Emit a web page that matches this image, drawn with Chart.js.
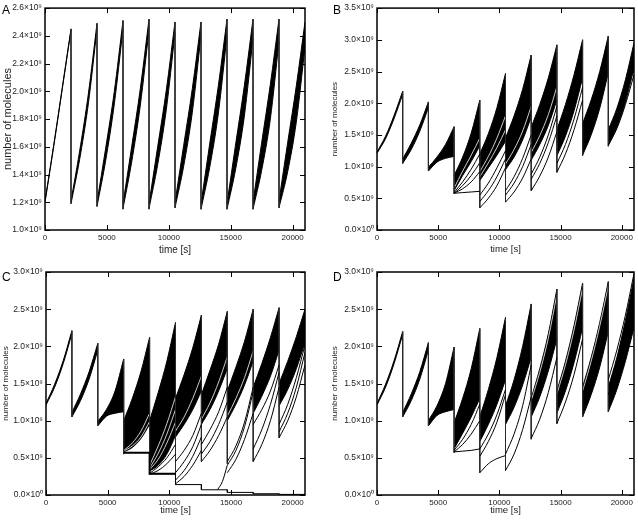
<!DOCTYPE html>
<html><head><meta charset="utf-8">
<script src="https://cdn.jsdelivr.net/npm/chart.js@4.4.0/dist/chart.umd.min.js"></script>
<style>
html,body{margin:0;padding:0;background:#fff;width:638px;height:521px;overflow:hidden}
body{position:relative}
canvas{position:absolute;display:block}
</style></head><body>
<canvas id="cA" width="318" height="260" style="left:0;top:0"></canvas>
<canvas id="cB" width="320" height="260" style="left:318px;top:0"></canvas>
<canvas id="cC" width="318" height="261" style="left:0;top:260px"></canvas>
<canvas id="cD" width="320" height="261" style="left:318px;top:260px"></canvas>
<script>
// ---------- shared data ----------
const SCALE = 1e9;                       // values below are in units of 10^9 molecules
const cycleStarts = [0,2100,4200,6300,8400,10500,12600,14700,16800,18900];
const sampleOffsets = [0,700,1400,2100]; // times inside each cycle where values were read
const xTicks = [0,5000,10000,15000,20000];
const X_MAX = 21000;

// ---------- Panel A ----------
const aYTicks = [1.0,1.2,1.4,1.6,1.8,2.0,2.2,2.4,2.6];
const aHi = [
 [1.21,1.61,2.03,2.45],[1.21,1.57,1.98,2.49],[1.20,1.59,2.00,2.51],[1.19,1.60,2.02,2.52],
 [1.19,1.60,2.01,2.50],[1.20,1.61,2.02,2.50],[1.19,1.62,2.04,2.52],[1.19,1.62,2.04,2.52],
 [1.20,1.63,2.05,2.52],[1.21,1.63,2.04,2.50]];
const aLo = [
 [1.20,1.60,2.02,2.44],[1.19,1.51,1.91,2.45],[1.17,1.50,1.91,2.45],[1.155,1.49,1.90,2.44],
 [1.155,1.47,1.87,2.42],[1.16,1.46,1.85,2.40],[1.15,1.45,1.84,2.40],[1.15,1.44,1.82,2.38],
 [1.15,1.43,1.80,2.36],[1.16,1.42,1.78,2.32]];
const aDropTop = [2.45,2.49,2.51,2.52,2.50,2.50,2.52,2.52,2.52];
const aDropBot = [1.19,1.17,1.15,1.15,1.16,1.15,1.15,1.15,1.16];
const aLineCycle = [];
const aLineVals = [];
const aGapCycle = [];
const aGapVals = [];

// ---------- Panel B ----------
const bYTicks = [0,0.5,1.0,1.5,2.0,2.5,3.0,3.5];
const bHi = [
 [1.23,1.48,1.81,2.19],[1.12,1.37,1.66,2.02],[0.99,1.15,1.35,1.63],[0.86,1.15,1.53,2.05],
 [1.20,1.52,1.93,2.47],[1.45,1.80,2.22,2.76],[1.62,1.98,2.40,2.92],[1.58,1.98,2.45,3.00],
 [1.68,2.05,2.50,3.06],[1.58,1.92,2.37,2.95]];
const bLo = [
 [1.21,1.44,1.76,2.14],[1.05,1.27,1.56,1.93],[0.93,1.07,1.13,1.16],[0.62,0.86,1.08,1.33],
 [0.78,0.98,1.18,1.40],[0.95,1.15,1.42,1.78],[1.10,1.35,1.65,2.05],[1.17,1.48,1.88,2.40],
 [1.18,1.50,1.92,2.48],[1.33,1.62,2.02,2.55]];
const bDropTop = [2.19,2.02,1.63,2.05,2.47,2.76,2.92,3.00,3.06];
const bDropBot = [1.05,0.93,0.57,0.35,0.44,0.62,0.91,1.17,1.32];
const bLineCycle = [3,3,3,3,4,4,4,5,5,5,6,6,6,7,7,9];
const bLineVals = [
 [0.58,0.59,0.60,0.61],[0.58,0.65,0.76,0.92],[0.58,0.70,0.86,1.06],[0.59,0.76,0.96,1.20],
 [0.35,0.50,0.70,0.98],[0.45,0.62,0.84,1.12],[0.55,0.74,0.98,1.25],
 [0.44,0.60,0.82,1.12],[0.55,0.74,1.00,1.35],[0.62,0.84,1.13,1.50],
 [0.62,0.85,1.15,1.55],[0.80,1.05,1.38,1.80],[0.88,1.15,1.50,1.95],
 [0.91,1.20,1.58,2.05],[1.05,1.35,1.75,2.25],
 [1.34,1.60,1.98,2.45]];
const bGapCycle = [3,4,4,5,6];
const bGapVals = [
 [0.66,0.93,1.18,1.45],[0.84,1.06,1.30,1.58],[0.92,1.16,1.45,1.80],
 [1.04,1.27,1.56,1.95],[1.22,1.49,1.82,2.26]];

// ---------- Panel C ----------
const cYTicks = [0,0.5,1.0,1.5,2.0,2.5,3.0];
const cHi = [
 [1.23,1.49,1.81,2.21],[1.11,1.36,1.66,2.04],[0.99,1.15,1.40,1.83],[1.00,1.30,1.66,2.12],
 [1.00,1.38,1.80,2.32],[1.30,1.62,1.98,2.42],[1.35,1.68,2.03,2.47],[1.40,1.72,2.07,2.50],
 [1.45,1.77,2.12,2.52],[1.50,1.80,2.13,2.50]];
const cLo = [
 [1.21,1.45,1.77,2.17],[1.05,1.27,1.56,1.95],[0.93,1.06,1.10,1.12],[0.58,0.64,0.76,0.95],
 [0.32,0.40,0.55,0.80],[0.78,0.95,1.15,1.40],[0.95,1.15,1.40,1.70],[1.00,1.22,1.48,1.80],
 [1.10,1.33,1.60,1.95],[1.20,1.42,1.70,2.05]];
const cDropTop = [2.21,2.04,1.83,2.12,2.32,2.42,2.47,2.50,2.52];
const cDropBot = [1.05,0.93,0.55,0.28,0.15,0.45,0.42,0.45,0.77];
const cLineCycle = [4,4,5,5,5,5,6,6,6,7,7,7,8,8,8,9,9,9];
const cLineVals = [
 [0.28,0.33,0.42,0.55],[0.29,0.38,0.50,0.68],
 [0.15,0.25,0.40,0.60],[0.20,0.33,0.52,0.78],[0.30,0.45,0.65,0.95],[0.45,0.60,0.80,1.10],
 [0.45,0.60,0.80,1.05],[0.55,0.72,0.95,1.25],[0.68,0.88,1.12,1.45],
 [0.40,0.60,0.92,1.39],[0.45,0.66,0.98,1.45],[0.30,0.48,0.75,1.10],
 [0.45,0.68,1.00,1.45],[0.62,0.88,1.22,1.65],[0.95,1.15,1.40,1.75],
 [0.77,1.00,1.32,1.75],[0.85,1.10,1.45,1.92],[0.95,1.22,1.58,2.02]];
const cGapCycle = [3,3,4,4,4,5,6,7];
const cGapVals = [
 [0.60,0.70,0.86,1.10],[0.59,0.66,0.78,0.99],
 [0.34,0.48,0.70,0.98],[0.36,0.56,0.82,1.15],[0.40,0.66,0.96,1.32],
 [0.86,1.05,1.30,1.60],[1.02,1.24,1.52,1.86],[1.06,1.30,1.58,1.94]];
const cStepFirstCycle = 3;
const cStepLevels = [0.57,0.285,0.14,0.07,0.035,0.017,0.008];
const cSpikeT = [13900,14300,14700];
const cSpikeV = [0.07,0.18,0.40];

// ---------- Panel D ----------
const dYTicks = [0,0.5,1.0,1.5,2.0,2.5,3.0];
const dHi = [
 [1.23,1.49,1.81,2.20],[1.11,1.36,1.66,2.05],[1.00,1.20,1.50,1.99],[0.97,1.30,1.70,2.24],
 [1.05,1.42,1.85,2.39],[1.20,1.55,2.00,2.57],[1.30,1.70,2.17,2.77],[1.40,1.80,2.28,2.85],
 [1.45,1.85,2.32,2.87],[1.45,1.85,2.35,2.92]];
const dLo = [
 [1.21,1.45,1.77,2.16],[1.05,1.27,1.56,1.95],[0.93,1.07,1.12,1.15],[0.62,0.83,1.05,1.30],
 [0.72,0.95,1.22,1.55],[0.95,1.18,1.48,1.85],[1.05,1.32,1.67,2.10],[1.10,1.40,1.78,2.25],
 [1.05,1.35,1.72,2.20],[1.12,1.42,1.80,2.25]];
const dDropTop = [2.20,2.05,1.99,2.24,2.39,2.57,2.77,2.85,2.87];
const dDropBot = [1.05,0.93,0.57,0.30,0.33,0.75,0.96,1.05,1.12];
const dLineCycle = [3,3,3,4,4,4,5,5,6,7,9,9];
const dLineVals = [
 [0.58,0.59,0.60,0.62],[0.58,0.68,0.82,1.00],[0.60,0.75,0.95,1.22],
 [0.30,0.42,0.49,0.53],[0.52,0.72,0.98,1.35],[0.62,0.82,1.08,1.42],
 [0.33,0.55,0.88,1.32],[0.55,0.82,1.20,1.75],
 [0.76,1.02,1.38,1.85],[0.96,1.25,1.62,2.10],
 [1.55,1.95,2.42,2.98],[1.35,1.70,2.10,2.55]];
const dGapCycle = [6,7,8];
const dGapVals = [[1.27,1.65,2.11,2.70],[1.36,1.75,2.22,2.78],[1.40,1.80,2.27,2.81]];

// ---------- building datasets ----------
function pts(cycle, vals){
  return sampleOffsets.map((o,i)=>({x:cycleStarts[cycle]+o, y:vals[i]*SCALE}));
}
function buildDatasets(p){
  const ds = [];
  p.hi.forEach((h,c)=>{
    ds.push({data:pts(c,h), fill:'+1', backgroundColor:'#000', borderColor:'#000', borderWidth:1,
             cubicInterpolationMode:'monotone', order:4});
    ds.push({data:pts(c,p.lo[c]), fill:false, borderColor:'#000', borderWidth:1,
             cubicInterpolationMode:'monotone', order:4});
  });
  // thin white gaps seen between bundled trajectories
  p.gapVals.forEach((v,i)=>{
    ds.push({data:pts(p.gapCycle[i], v), fill:false, borderColor:'#fff', borderWidth:0.8,
             cubicInterpolationMode:'monotone', order:3});
  });
  p.lineVals.forEach((v,i)=>{
    ds.push({data:pts(p.lineCycle[i], v), fill:false, borderColor:'#000', borderWidth:1,
             cubicInterpolationMode:'monotone', order:2});
  });
  p.dropTop.forEach((top,i)=>{
    const t = cycleStarts[i+1];
    ds.push({data:[{x:t,y:top*SCALE},{x:t,y:p.dropBot[i]*SCALE}], fill:false, borderColor:'#2a2a2a',
             borderWidth:1, order:2});
  });
  return ds.concat(p.extra || []);
}

const FAM = "'Liberation Sans', Arial, sans-serif";
const framePlugin = {
  id:'frame',
  afterDraw(chart, args, opts){
    const {ctx, chartArea:a, scales:{x,y}} = chart;
    ctx.save();
    ctx.strokeStyle = '#000'; ctx.lineWidth = 1;
    const L = 5;
    x.ticks.forEach(t=>{
      const px = Math.round(x.getPixelForValue(t.value))+0.5;
      ctx.beginPath(); ctx.moveTo(px,a.bottom); ctx.lineTo(px,a.bottom-L);
      ctx.moveTo(px,a.top); ctx.lineTo(px,a.top+L); ctx.stroke();
    });
    y.ticks.forEach(t=>{
      const py = Math.round(y.getPixelForValue(t.value))+0.5;
      ctx.beginPath(); ctx.moveTo(a.left,py); ctx.lineTo(a.left+L,py);
      ctx.moveTo(a.right,py); ctx.lineTo(a.right-L,py); ctx.stroke();
    });
    ctx.lineWidth = 1.5;
    ctx.strokeRect(a.left, a.top, a.right-a.left, a.bottom-a.top);
    ctx.fillStyle = '#000';
    ctx.font = "12px " + FAM;
    ctx.textBaseline = 'top'; ctx.textAlign = 'left';
    ctx.fillText(opts.letter, opts.lx, opts.ly);
    ctx.restore();
  }
};

function makeChart(id, cfg){
  const ds = buildDatasets(cfg);
  const yTicks = cfg.yTicks;
  return new Chart(document.getElementById(id), {
    type:'line',
    data:{datasets:ds},
    options:{
      responsive:false, animation:false, events:[],
      elements:{point:{radius:0}, line:{tension:0}},
      layout:{padding:{top:cfg.padTop, right:cfg.padRight, left:0, bottom:0}},
      plugins:{legend:{display:false}, tooltip:{enabled:false},
               frame:{letter:cfg.letter, lx:cfg.lx, ly:cfg.ly}},
      scales:{
        x:{type:'linear', min:0, max:X_MAX,
           afterBuildTicks:s=>{s.ticks = xTicks.map(v=>({value:v}));},
           grid:{display:false, drawTicks:false}, border:{display:false},
           ticks:{padding:3, font:{family:FAM, size:8}, color:'#222', maxRotation:0, autoSkip:false,
                  callback:v=>String(v)},
           title:{display:true, text:'time [s]', color:'#222',
                  font:{family:FAM, size:cfg.xTitleSize}, padding:{top:0, bottom:cfg.xTitlePad}},
           afterFit:s=>{s.height = cfg.xH;}},
        y:{type:'linear', min:yTicks[0]*SCALE, max:yTicks[yTicks.length-1]*SCALE,
           afterBuildTicks:s=>{s.ticks = yTicks.map(v=>({value:v*SCALE}));},
           grid:{display:false, drawTicks:false}, border:{display:false},
           ticks:{padding:3, font:{family:FAM, size:8.5}, color:'#222', autoSkip:false,
                  callback:v=> v===0 ? '0.0\u00d710\u2070' : (v/SCALE).toFixed(1)+'\u00d710\u2079'},
           title:{display:true, text:'number of molecules', color:'#222',
                  font:{family:FAM, size:cfg.yTitleSize}, padding:{top:cfg.yTitlePad, bottom:0}},
           afterFit:s=>{s.width = cfg.yW;}}
      }
    },
    plugins:[framePlugin]
  });
}

// extra datasets for panel C: the halving step lineage and a late riser
function stepData(levels, first){
  const out = [];
  levels.forEach((v,i)=>{
    const c = first + i;
    const t0 = cycleStarts[c], t1 = c+1 < cycleStarts.length ? cycleStarts[c+1] : X_MAX;
    out.push({x:t0, y:v*SCALE}, {x:t1, y:v*SCALE});
  });
  return out;
}
const cExtra = [
  {data:stepData(cStepLevels.slice(0,2), cStepFirstCycle), fill:false, borderColor:'#000', borderWidth:2, order:1},
  {data:stepData(cStepLevels.slice(1), cStepFirstCycle+1), fill:false, borderColor:'#000', borderWidth:1, order:1},
  {data:cSpikeT.map((t,i)=>({x:t, y:cSpikeV[i]*SCALE})), fill:false, borderColor:'#000', borderWidth:1,
   cubicInterpolationMode:'monotone', order:1}
];

makeChart('cA', {hi:aHi, lo:aLo, dropTop:aDropTop, dropBot:aDropBot, lineCycle:aLineCycle, lineVals:aLineVals,
  gapCycle:aGapCycle, gapVals:aGapVals,
  yTicks:aYTicks, padTop:5, padRight:13, yW:45, xH:30, letter:'A', lx:2, ly:5,
  xTitleSize:10, xTitlePad:4, yTitleSize:11, yTitlePad:1});
makeChart('cB', {hi:bHi, lo:bLo, dropTop:bDropTop, dropBot:bDropBot, lineCycle:bLineCycle, lineVals:bLineVals,
  gapCycle:bGapCycle, gapVals:bGapVals,
  yTicks:bYTicks, padTop:5, padRight:4, yW:59, xH:30, letter:'B', lx:15, ly:5,
  xTitleSize:9.5, xTitlePad:4.5, yTitleSize:8, yTitlePad:12});
makeChart('cC', {hi:cHi, lo:cLo, dropTop:cDropTop, dropBot:cDropBot, lineCycle:cLineCycle, lineVals:cLineVals,
  gapCycle:cGapCycle, gapVals:cGapVals,
  yTicks:cYTicks, padTop:12, padRight:13, yW:46, xH:26, letter:'C', lx:2, ly:12,
  xTitleSize:9.5, xTitlePad:4.5, yTitleSize:8, yTitlePad:1, extra:cExtra});
makeChart('cD', {hi:dHi, lo:dLo, dropTop:dDropTop, dropBot:dDropBot, lineCycle:dLineCycle, lineVals:dLineVals,
  gapCycle:dGapCycle, gapVals:dGapVals,
  yTicks:dYTicks, padTop:12, padRight:4, yW:59, xH:26, letter:'D', lx:15, ly:12,
  xTitleSize:9.5, xTitlePad:4.5, yTitleSize:8, yTitlePad:12});
</script>
</body></html>
